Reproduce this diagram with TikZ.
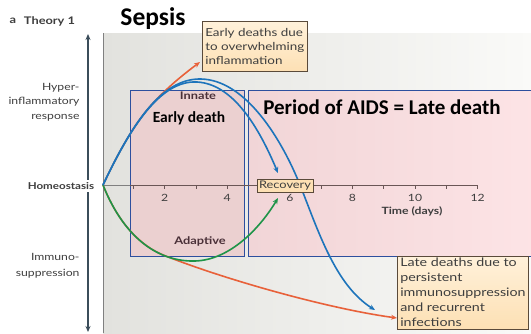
\documentclass[tikz,border=0pt]{standalone}
\usepackage{fontspec}
\setmainfont{Lato}[FakeStretch=1.22]
\newfontfamily\calibri{Carlito}
\usetikzlibrary{arrows.meta}

\definecolor{panelgray}{HTML}{E2E2DE}
\definecolor{panelwhite}{HTML}{FAFAF8}
\definecolor{zoneline}{HTML}{2D4F9E}
\definecolor{pinkA}{HTML}{EBD0D0}
\definecolor{pinkB}{HTML}{F1D5D7}
\definecolor{pinkC}{HTML}{FDE4E6}
\definecolor{curveblue}{HTML}{1D74BB}
\definecolor{curveorange}{HTML}{E8613A}
\definecolor{curvegreen}{HTML}{1E9448}
\definecolor{notefill}{HTML}{FDE0B4}
\definecolor{notefillB}{HTML}{FFF1DA}
\definecolor{noteline}{HTML}{5A4A3A}
\definecolor{axisslate}{HTML}{3B4D5A}
\definecolor{axisdark}{HTML}{6A5656}
\definecolor{labelgray}{HTML}{3E3E3E}
\definecolor{phaselabel}{HTML}{4A3038}

\tikzset{
  zonebox/.style={draw=zoneline, line width=1.1pt, anchor=north west, inner sep=0pt},
  notebox/.style={draw=noteline, line width=0.6pt, anchor=north west, inner xsep=3pt,
    align=left, text=labelgray, top color=notefillB, bottom color=notefill},
  curve/.style={line width=1.6pt, -{Stealth[length=6pt,width=5pt]}},
  sidelabel/.style={anchor=east, align=right, text=labelgray, font=\fontsize{10}{14.5}\selectfont},
  ticklabel/.style={font=\fontsize{10}{12}\selectfont, text=labelgray},
}

\begin{document}
\begin{tikzpicture}[x=1pt,y=-1pt]
\useasboundingbox (0,0) rectangle (531,333);
\fill[white] (0,0) rectangle (531,333);

% plot panel
\shade[left color=panelgray, right color=panelwhite] (103,33) rectangle (531,333);
\draw[gray, line width=0.8pt] (103,33) -- (103,333);

% shaded periods
\node[zonebox, fill=pinkA, minimum width=114pt, minimum height=166pt] (early) at (130,90) {};
\shade[left color=pinkB, right color=pinkC] (248,90) rectangle (540,256);
\node[zonebox, minimum width=292pt, minimum height=166pt] (late) at (248,90) {};

% vertical response axis
\draw[axisslate, line width=1.8pt, {Stealth[length=6pt,width=5pt]}-{Stealth[length=6pt,width=5pt]}]
  (88,34) -- (88,332);

% time axis
\coordinate (o) at (103,185);
\coordinate (a1) at (130,185);
\coordinate (a12) at (477,185);
\draw[gray, line width=1pt] (o) -- (a1);
\draw[axisdark, line width=1pt] (a1) -- (a12);
\foreach \i in {1,...,12} {
  \draw[axisdark, line width=0.7pt] ({102+31.3*\i},185) -- ++(0,4);
}
\foreach \i in {2,4,...,12} {
  \node[ticklabel] (t\i) at ({102+31.3*\i},198) {\i};
}
\node[font=\bfseries\fontsize{10}{12}\selectfont, text=labelgray] (tdays) at (412,211) {Time (days)};

% outcome notes
\node[notebox, minimum width=100pt, minimum height=50pt, inner ysep=2pt,
  font=\fontsize{11}{14}\selectfont] (earlynote) at (202,21)
  {Early deaths due\\to overwhelming\\inflammation};
\node[notebox, minimum width=116pt, inner ysep=2pt,
  font=\fontsize{11.7}{15}\selectfont] (latenote) at (397,256)
  {Late deaths due to\\persistent\\immunosuppression\\and recurrent\\infections};

% curve end points
\coordinate (eEarly) at (200,62);
\coordinate (eLate) at (397,318);
\coordinate (eRecUp) at (278,173);
\coordinate (eRecDown) at (278,198);
\coordinate (eLateBlue) at (375,310);

% orange trajectories (beneath the others, sharing their first stretch)
\draw[curve, curveorange] (o) .. controls (117.85,153.65) and (133.6,124.6) .. (151.6,104.7)
  .. controls (167.6,87) and (184,74) .. (eEarly);
\draw[curve, curveorange] (o) .. controls (118.4,223.5) and (140.2,245.8) .. (163.9,255.3)
  .. controls (226,280) and (330,309) .. (eLate);

% adaptive response
\draw[curve, curvegreen] (o) .. controls (125,240) and (160,262) .. (195,261)
  .. controls (230,260) and (260,228) .. (eRecDown);

% innate response
\draw[curve, curveblue] (o) .. controls (130,128) and (160,78) .. (201,79)
  .. controls (246,80) and (282,140) .. (300,185)
  .. controls (318,230) and (335,285) .. (eLateBlue);
\draw[curve, curveblue] (o) .. controls (130,128) and (160,80) .. (197,82)
  .. controls (236,84) and (262,135) .. (eRecUp);

% recovery marker
\node[draw=noteline, line width=0.6pt, fill=notefill, inner sep=2pt,
  font=\fontsize{10.5}{13}\selectfont, text=labelgray] (recovery) at (285,185.5) {Recovery};

% headings and labels
\node[font=\bfseries\fontsize{10.5}{12}\selectfont, text=labelgray] (panel) at (13,21) {a};
\node[font=\bfseries\fontsize{10.5}{12}\selectfont, text=labelgray] (theory) at (49.5,21) {Theory 1};
\node[font=\calibri\bfseries\fontsize{25.5}{28}\selectfont] (sepsis) at (153,19) {Sepsis};
\node[font=\calibri\bfseries\fontsize{15.5}{18}\selectfont] (earlylbl) at (189,118) {Early death};
\node[font=\calibri\bfseries\fontsize{21}{24}\selectfont] (latelbl) at (382,107) {Period of AIDS = Late death};
\node[font=\bfseries\fontsize{10.5}{12}\selectfont, text=phaselabel] (innate) at (198,96) {Innate};
\node[font=\bfseries\fontsize{10.5}{12}\selectfont, text=phaselabel] (adaptive) at (200,241) {Adaptive};

\node[sidelabel] (hyper) at (83,102) {Hyper-\\inflammatory\\response};
\node[font=\bfseries\fontsize{9.5}{12}\selectfont, text=labelgray, fill=white, inner sep=2pt] (homeo) at (61,186) {Homeostasis};
\node[sidelabel, font=\fontsize{10}{16}\selectfont] (immuno) at (83,266) {Immuno-\\suppression};
\end{tikzpicture}
\end{document}
